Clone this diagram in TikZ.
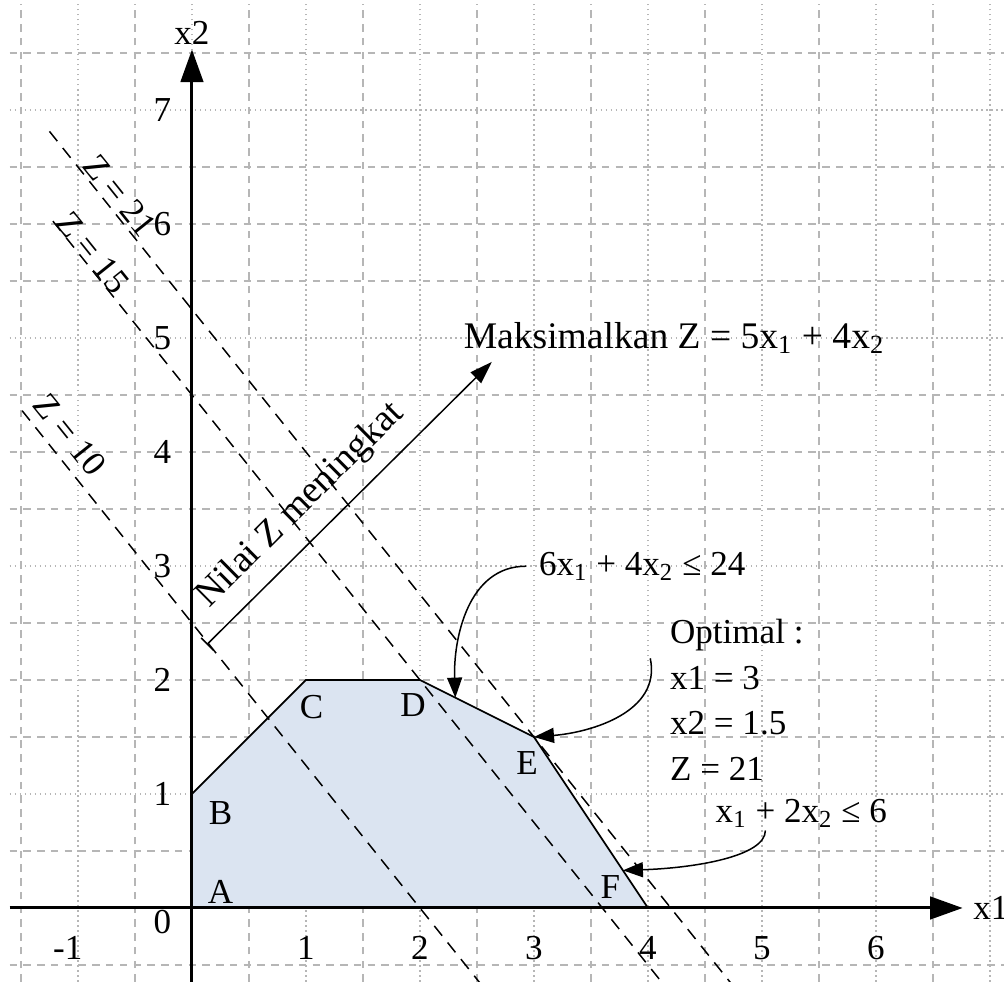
\documentclass[tikz,border=0pt]{standalone}
\usepackage{fontspec}
\setmainfont{Liberation Serif}
\usetikzlibrary{arrows.meta}
\definecolor{regionfill}{HTML}{DBE4F1}
\definecolor{gridgrey}{HTML}{B6B6B6}

\begin{document}
\begin{tikzpicture}[x=1.6cm,y=1.6cm,
  gridint/.style={gridgrey,line width=0.55pt,dash pattern=on 0.6pt off 1.4pt},
  gridhalf/.style={gridgrey,line width=0.55pt,dash pattern=on 3pt off 2.5pt},
  axisline/.style={line width=1.2pt,-{Triangle[length=13pt,width=9pt]}},
  zline/.style={line width=0.6pt,dash pattern=on 5pt off 3.5pt},
  ticknum/.style={font=\fontsize{14}{16}\selectfont,inner sep=0pt},
  ptlabel/.style={font=\fontsize{14}{16}\selectfont,inner sep=0pt},
  zlabel/.style={font=\fontsize{14}{16}\selectfont,inner sep=0pt,rotate=-51.34},
  notetext/.style={font=\fontsize{14}{18.2}\selectfont,inner sep=0pt,anchor=base west},
  notearrow/.style={line width=0.6pt,-{Triangle[length=8pt,width=6pt]}}]

\useasboundingbox (-1.684,-0.649) rectangle (7.123,7.965);

% grid
\foreach \gx in {-1,...,7}
  \draw[gridint] (\gx,-0.649) -- (\gx,7.93);
\foreach \gx in {-1.5,-0.5,...,6.5}
  \draw[gridhalf] (\gx,-0.649) -- (\gx,7.93);
\foreach \gy in {1,3,5,7}
  \draw[gridint] (-1.6,\gy) -- (7.123,\gy);
\foreach \gy in {-0.5,0.5,...,7.5}
  \draw[gridhalf] (-1.6,\gy) -- (7.123,\gy);
\foreach \gy in {2,4,6}
  \draw[gridhalf] (-1.6,\gy) -- (7.123,\gy);

% feasible region
\coordinate (A) at (0,0);
\coordinate (B) at (0,1);
\coordinate (C) at (1,2);
\coordinate (D) at (2,2);
\coordinate (E) at (3,1.5);
\coordinate (F) at (4,0);
\fill[regionfill] (A) -- (B) -- (C) -- (D) -- (E) -- (F) -- cycle;
\draw[line width=0.7pt] (B) -- (C) -- (D) -- (E) -- (F);

% objective lines
\coordinate (z10a) at (-1.49,4.3625);
\coordinate (z10b) at (2.56,-0.70);
\coordinate (z18a) at (-1.22,6.025);
\coordinate (z18b) at (4.16,-0.70);
\coordinate (z21a) at (-1.25,6.8125);
\coordinate (z21b) at (4.76,-0.70);
\draw[zline] (z10a) -- (z10b);
\draw[zline] (z18a) -- (z18b);
\draw[zline] (z21a) -- (z21b);
\node[zlabel] (z21lbl) at (-0.63,6.25) {Z = 21};
\node[zlabel] (z15lbl) at (-0.87,5.75) {Z = 15};
\node[zlabel] (z10lbl) at (-1.07,4.15) {Z = 10};

% axes
\coordinate (xfrom) at (-1.6,0);
\coordinate (xto) at (6.76,0);
\coordinate (yfrom) at (0,-0.7);
\coordinate (yto) at (0,7.53);
\draw[axisline] (xfrom) -- (xto);
\draw[axisline] (yfrom) -- (yto);
\node[ptlabel,anchor=west] (x1lbl) at (6.85,0) {x1};
\node[ptlabel] (x2lbl) at (0,7.68) {x2};

% tick numbers
\node[ticknum] (orig) at (-0.26,-0.12) {0};
\node[ticknum] (xneg) at (-1.09,-0.35) {-1};
\foreach \k in {1,...,6}
  \node[ticknum] (xnum\k) at (\k,-0.35) {\k};
\foreach \k in {1,...,7}
  \node[ticknum] (ynum\k) at (-0.26,\k) {\k};

% corner points
\node[ptlabel] (Alabel) at (0.25,0.14) {A};
\node[ptlabel] (Blabel) at (0.25,0.83) {B};
\node[ptlabel] (Clabel) at (1.05,1.76) {C};
\node[ptlabel] (Dlabel) at (1.94,1.78) {D};
\node[ptlabel] (Elabel) at (2.94,1.27) {E};
\node[ptlabel] (Flabel) at (3.67,0.18) {F};

% direction of increasing Z
\coordinate (risefrom) at (0.13,2.31);
\coordinate (riseto) at (2.63,4.79);
\draw[line width=0.6pt,{Bar[width=7pt]}-{Triangle[length=9pt,width=6pt]}] (risefrom) -- node[pos=0.41,sloped,above,inner sep=6pt,font=\fontsize{15}{17}\selectfont] (riselbl) {Nilai Z meningkat} (riseto);
\node[notetext,font=\fontsize{15}{17}\selectfont] (objective) at (2.38,4.91) {Maksimalkan Z = 5x\textsubscript{1} + 4x\textsubscript{2}};

% constraints and optimum
\node[notetext] (cons1) at (3.04,2.92) {6x\textsubscript{1} + 4x\textsubscript{2} ≤ 24};
\node[notetext,align=left] (optimal) at (4.19,1.12) {Optimal :\\x1 = 3\\x2 = 1.5\\Z = 21};
\node[notetext] (cons2) at (4.59,0.75) {x\textsubscript{1} + 2x\textsubscript{2} ≤ 6};
\coordinate (dtip) at (2.31,1.845);
\coordinate (ftip) at (3.78,0.33);
\coordinate (optfrom) at (4.02,2.19);
\coordinate (cons2from) at (5.03,0.68);
\draw[notearrow] ([xshift=-5pt]cons1.west) to[out=180,in=92] (dtip);
\draw[notearrow] (optfrom) .. controls (4.12,1.72) and (3.5,1.54) .. (E);
\draw[notearrow] (cons2from) .. controls (5.03,0.45) and (4.4,0.35) .. (ftip);
\end{tikzpicture}
\end{document}
